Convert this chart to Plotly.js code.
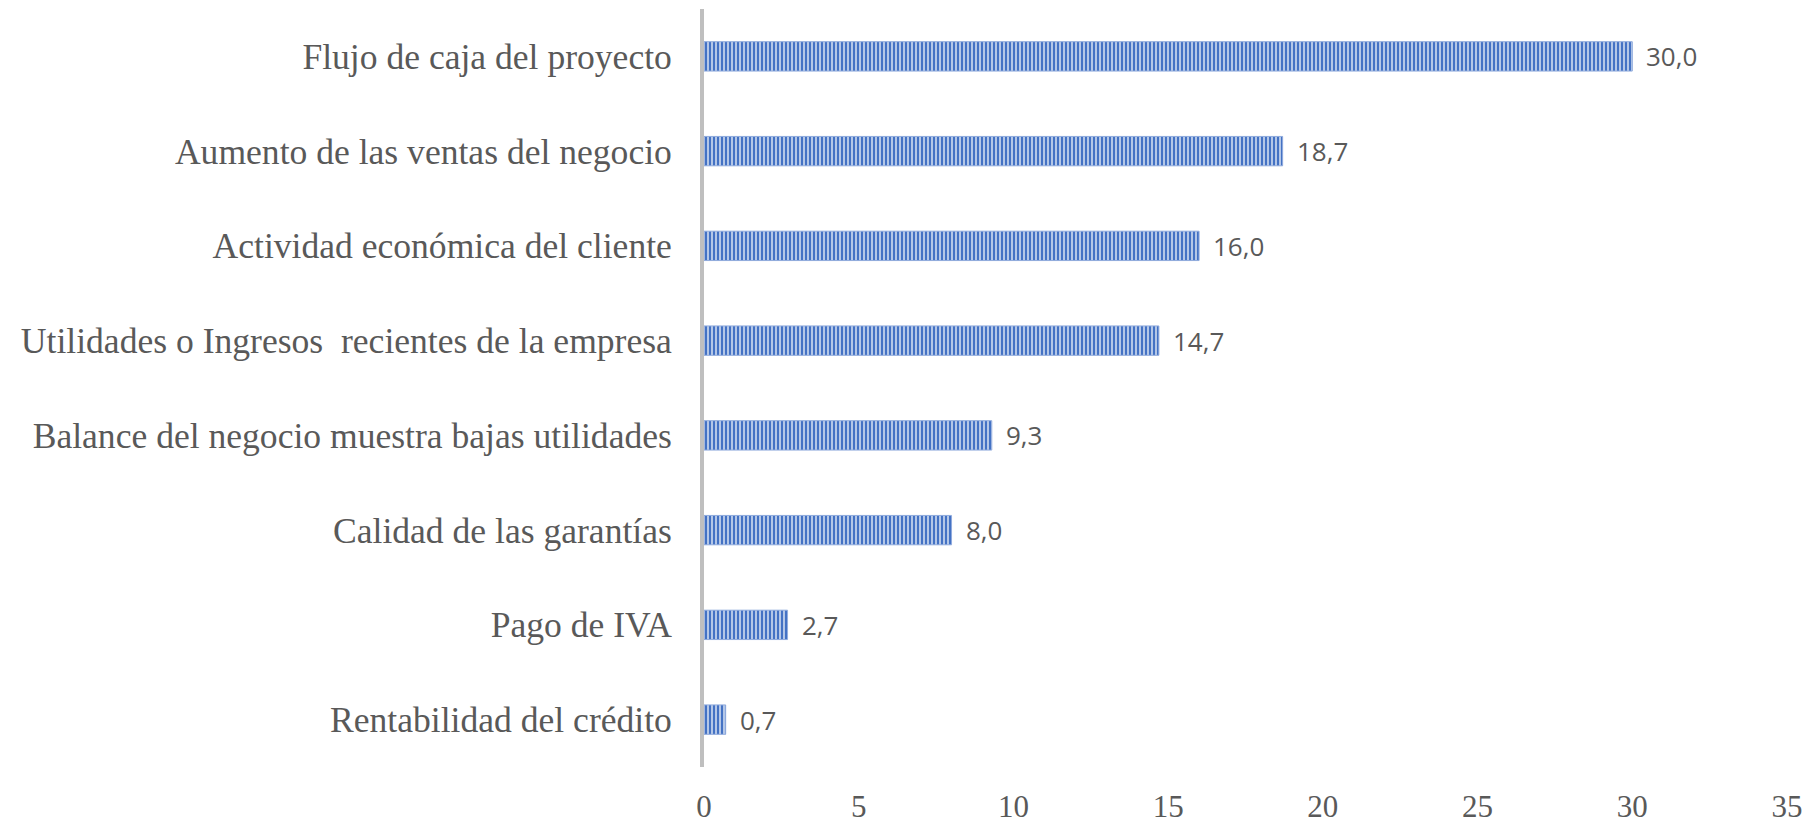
<!DOCTYPE html>
<html>
<head>
<meta charset="utf-8">
<script src="https://cdn.plot.ly/plotly-3.0.1.min.js"></script>
<style>html,body{margin:0;padding:0;background:#fff;}#chart{width:1820px;height:823px;}</style>
</head>
<body>
<div id="chart"></div>
<script>
const categories = [
  "Flujo de caja del proyecto",
  "Aumento de las ventas del negocio",
  "Actividad económica del cliente",
  "Utilidades o Ingresos\u00a0 recientes de la empresa",
  "Balance del negocio muestra bajas utilidades",
  "Calidad de las garantías",
  "Pago de IVA",
  "Rentabilidad del crédito"
];
const values = [30.0, 18.7, 16.0, 14.7, 9.3, 8.0, 2.7, 0.7];
const xTicks = [0, 5, 10, 15, 20, 25, 30, 35];

const trace = {
  type: 'bar',
  orientation: 'h',
  x: values,
  y: categories,
  marker: {
    color: '#4472C4',
    line: {color: '#8FAADC', width: 1},
    pattern: {shape: '|', fgcolor: '#4472C4', bgcolor: '#B4C7E7', size: 4, solidity: 0.5, fillmode: 'replace'}
  },
  hoverinfo: 'skip'
};

const annotations = values.map((v, i) => ({
  x: v, y: categories[i], xref: 'x', yref: 'y',
  text: v.toFixed(1).replace('.', ','),
  showarrow: false, xanchor: 'left', xshift: 12,
  font: {family: 'Open Sans', size: 26, color: '#595959'}
}));

const layout = {
  width: 1820, height: 823,
  margin: {l: 704, r: 33, t: 9, b: 56},
  paper_bgcolor: '#fff', plot_bgcolor: '#fff',
  showlegend: false,
  bargap: 0.69,
  separators: ',.',
  xaxis: {
    range: [0, 35], tickvals: xTicks, ticktext: xTicks.map(String),
    showgrid: false, zeroline: false, showline: false, ticks: '',
    ticklabelstandoff: 18,
    tickfont: {family: 'Liberation Serif', size: 31, color: '#595959'},
    fixedrange: true
  },
  yaxis: {
    autorange: 'reversed', type: 'category',
    showgrid: false, zeroline: false,
    showline: true, linecolor: '#BFBFBF', linewidth: 4,
    ticks: '', ticklabelstandoff: 21,
    tickfont: {family: 'Liberation Serif', size: 35.6, color: '#595959'},
    fixedrange: true
  },
  annotations: annotations
};

Plotly.newPlot('chart', [trace], layout, {displayModeBar: false, staticPlot: true});
</script>
</body>
</html>
